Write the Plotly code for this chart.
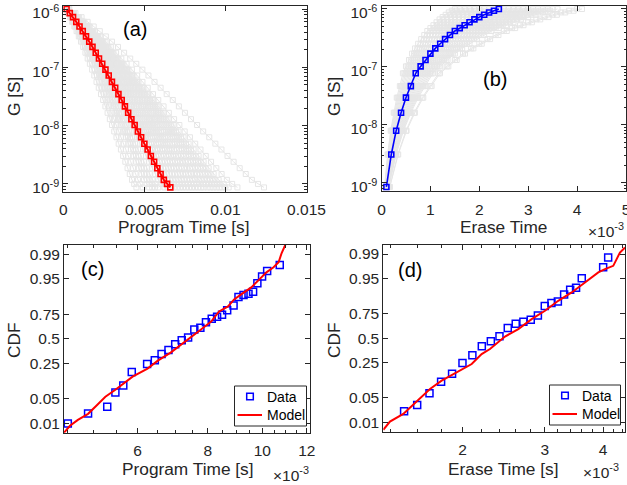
import plotly.graph_objects as go
from statistics import NormalDist

W, H = 627, 485
FONT = "Liberation Sans, Arial, sans-serif"
INK = "#262626"
GREY = "rgb(230,230,230)"

# ---------------- (a) program: conductance after each pulse ----------------
prog_time_ms = [0.2, 0.4, 0.6, 0.8, 1.0, 1.2, 1.4, 1.6, 1.8, 2.0, 2.2,
                2.4, 2.6, 2.8, 3.0, 3.2, 3.4, 3.6, 3.8, 4.0, 4.2, 4.4,
                4.6, 4.8, 5.0, 5.2, 5.4, 5.6, 5.8, 6.0, 6.2, 6.4, 6.6]
prog_log10_g = [-6.00, -6.07, -6.14, -6.22, -6.30, -6.38, -6.47, -6.56, -6.65,
                -6.75, -6.85, -6.94, -7.04, -7.14, -7.25, -7.35, -7.46, -7.56,
                -7.67, -7.78, -7.89, -7.99, -8.10, -8.20, -8.31, -8.41, -8.52,
                -8.62, -8.73, -8.83, -8.93, -9.00, -9.06]

# ---------------- (b) erase: conductance after each pulse ----------------
erase_time_ms = [0.1, 0.2, 0.3, 0.4, 0.5, 0.6, 0.7, 0.8, 0.9, 1.0, 1.1, 1.2,
                 1.3, 1.4, 1.5, 1.6, 1.7, 1.8, 1.9, 2.0, 2.1, 2.2, 2.3, 2.4]
erase_log10_g = [-9.07, -8.51, -8.10, -7.79, -7.53, -7.33, -7.11, -6.99,
                 -6.88, -6.77, -6.68, -6.60, -6.52, -6.45, -6.38, -6.33,
                 -6.28, -6.23, -6.18, -6.14, -6.10, -6.06, -6.03, -6.00]

# ---------------- (c) program time distribution ----------------
prog_data_ms = [4.51, 4.90, 5.30, 5.48, 5.66, 5.86, 6.24, 6.44, 6.62, 6.81,
                7.00, 7.19, 7.38, 7.57, 7.76, 7.94, 8.13, 8.31, 8.48, 8.66,
                8.89, 9.07, 9.26, 9.45, 9.63, 9.80, 9.99, 10.20, 10.74, 12.38]
prog_data_cdf = [0.0100, 0.0202, 0.0311, 0.0706, 0.1006, 0.1817, 0.2455, 0.2777,
                 0.3398, 0.3810, 0.4408, 0.4846, 0.5143, 0.6011, 0.6190, 0.6762,
                 0.7092, 0.7278, 0.7457, 0.7846, 0.8205, 0.8741, 0.8851, 0.8925,
                 0.9023, 0.9362, 0.9562, 0.9687, 0.9787, 0.9891]
prog_model_ms = [4.44, 4.55, 4.70, 4.90, 5.09, 5.26, 5.48, 5.66, 5.88, 6.25,
                 6.52, 6.87, 7.22, 7.47, 7.78, 8.11, 8.38, 8.69, 8.91, 9.17,
                 9.56, 9.88, 10.17, 10.47, 10.69, 10.82, 11.00]
prog_model_cdf = [0.0050, 0.0085, 0.0131, 0.0198, 0.0351, 0.0559, 0.0812, 0.1090,
                  0.1494, 0.2066, 0.2750, 0.3530, 0.4485, 0.5143, 0.6010, 0.6830,
                  0.7740, 0.8130, 0.8605, 0.8890, 0.9212, 0.9488, 0.9660, 0.9752,
                  0.9822, 0.9906, 0.9953]

# ---------------- (d) erase time distribution ----------------
erase_data_ms = [1.5, 1.6, 1.7, 1.8, 1.9, 2.0, 2.1, 2.2, 2.3, 2.4, 2.5, 2.6,
                 2.7, 2.8, 2.9, 3.0, 3.1, 3.2, 3.3, 3.4, 3.5, 3.6, 4.0, 4.1]
erase_data_cdf = [0.0222, 0.0331, 0.0649, 0.1159, 0.1647, 0.2482, 0.3199, 0.4129,
                  0.4671, 0.5220, 0.6117, 0.6562, 0.6763, 0.6958, 0.7368, 0.8132,
                  0.8346, 0.8459, 0.8872, 0.9097, 0.9183, 0.9517, 0.9752, 0.9872]
erase_model_ms = [1.354, 1.399, 1.494, 1.596, 1.704, 1.805, 1.911, 1.992, 2.093,
                  2.198, 2.290, 2.466, 2.633, 2.812, 3.003, 3.206, 3.425, 3.657,
                  3.905, 4.036, 4.136, 4.204, 4.275, 4.345, 4.454]
erase_model_cdf = [0.0058, 0.0108, 0.0185, 0.0413, 0.0812, 0.1214, 0.1627, 0.1989,
                   0.2395, 0.3327, 0.3841, 0.5198, 0.6011, 0.7025, 0.7765, 0.8499,
                   0.8974, 0.9385, 0.9655, 0.9719, 0.9748, 0.9773, 0.9856, 0.9911,
                   0.9939]

cdf_ticks = [0.01, 0.05, 0.25, 0.5, 0.75, 0.95, 0.99]
cdf_tick_text = ["0.01", "0.05", "0.25", "0.5", "0.75", "0.95", "0.99"]
g_ticks = [1e-9, 1e-8, 1e-7, 1e-6]
g_tick_text = ["10<sup>-9</sup>", "10<sup>-8</sup>", "10<sup>-7</sup>", "10<sup>-6</sup>"]
prog_ticks = [0, 0.005, 0.01, 0.015]
prog_tick_text = ["0", "0.005", "0.01", "0.015"]
erase_ticks = [0, 1e-3, 2e-3, 3e-3, 4e-3, 5e-3]
erase_tick_text = ["0", "1", "2", "3", "4", "5"]
c_ticks = [6e-3, 8e-3, 10e-3, 12e-3]
c_tick_text = ["6", "8", "10", "12"]
d_ticks = [2e-3, 3e-3, 4e-3]
d_tick_text = ["2", "3", "4"]

probit = NormalDist().inv_cdf


def family(t_ms, logg, switch_ms):
    """Every other cycle: the highlighted trace rescaled to its own switching time."""
    xs, ys = [], []
    t_ref = t_ms[-1]
    for T in switch_ms:
        s = T / t_ref
        xs += [t * s * 1e-3 for t in t_ms] + [None]
        ys += [10 ** v for v in logg] + [None]
    return xs, ys


def px_x(p):
    return p / W


def px_y(p):
    return 1 - p / H


fig = go.Figure()

# (a)
gx, gy = family(prog_time_ms, prog_log10_g, prog_data_ms)
fig.add_trace(go.Scatter(x=gx, y=gy, xaxis="x", yaxis="y", mode="lines+markers",
                         line=dict(color=GREY, width=1),
                         marker=dict(symbol="square-open", size=5, color=GREY, line=dict(width=1)),
                         showlegend=False, hoverinfo="skip"))
fig.add_trace(go.Scatter(x=[t * 1e-3 for t in prog_time_ms], y=[10 ** v for v in prog_log10_g],
                         xaxis="x", yaxis="y", mode="lines+markers",
                         line=dict(color="red", width=2),
                         marker=dict(symbol="square-open", size=5, color="red", line=dict(width=1.6)),
                         showlegend=False))

# (b)
gx, gy = family(erase_time_ms, erase_log10_g, erase_data_ms)
fig.add_trace(go.Scatter(x=gx, y=gy, xaxis="x2", yaxis="y2", mode="lines+markers",
                         line=dict(color=GREY, width=1),
                         marker=dict(symbol="square-open", size=5, color=GREY, line=dict(width=1)),
                         showlegend=False, hoverinfo="skip"))
fig.add_trace(go.Scatter(x=[t * 1e-3 for t in erase_time_ms], y=[10 ** v for v in erase_log10_g],
                         xaxis="x2", yaxis="y2", mode="lines+markers",
                         line=dict(color="blue", width=1.6),
                         marker=dict(symbol="square-open", size=5, color="blue", line=dict(width=1.6)),
                         showlegend=False))

# (c)
fig.add_trace(go.Scatter(x=[v * 1e-3 for v in prog_data_ms], y=[probit(p) for p in prog_data_cdf],
                         xaxis="x3", yaxis="y3", mode="markers", name="Data",
                         marker=dict(symbol="square-open", size=7, color="blue", line=dict(width=1.5)),
                         cliponaxis=False, showlegend=False))
fig.add_trace(go.Scatter(x=[v * 1e-3 for v in prog_model_ms], y=[probit(p) for p in prog_model_cdf],
                         xaxis="x3", yaxis="y3", mode="lines", name="Model",
                         line=dict(color="red", width=2), showlegend=False))

# (d)
fig.add_trace(go.Scatter(x=[v * 1e-3 for v in erase_data_ms], y=[probit(p) for p in erase_data_cdf],
                         xaxis="x4", yaxis="y4", mode="markers", name="Data",
                         marker=dict(symbol="square-open", size=7, color="blue", line=dict(width=1.5)),
                         cliponaxis=False, showlegend=False))
fig.add_trace(go.Scatter(x=[v * 1e-3 for v in erase_model_ms], y=[probit(p) for p in erase_model_cdf],
                         xaxis="x4", yaxis="y4", mode="lines", name="Model",
                         line=dict(color="red", width=2), showlegend=False))

axis_style = dict(showline=True, linecolor=INK, linewidth=1, mirror="allticks",
                  ticks="inside", ticklen=5, tickcolor=INK, tickwidth=1,
                  showgrid=False, zeroline=False, automargin=False,
                  ticklabeloverflow="allow",
                  tickfont=dict(family=FONT, size=15.5, color=INK))

log_minor = [m * 10 ** e for e in (-10, -9, -8, -7, -6) for m in range(2, 10)]
minor_style = dict(ticks="inside", ticklen=2.5, tickcolor=INK, tickvals=log_minor)
c_minor = [v * 1e-3 for v in (4.5, 5, 5.5, 6.5, 7, 7.5, 8.5, 9, 9.5, 10.5, 11, 11.5)]
d_minor = [v * 1e-3 for v in (1.4, 1.6, 1.8, 2.2, 2.4, 2.6, 2.8, 3.2, 3.4, 3.6, 3.8, 4.2, 4.4)]

zlo, zhi = probit(0.005), probit(0.995)

fig.update_layout(
    width=W, height=H, margin=dict(l=0, r=0, t=0, b=0, autoexpand=False),
    paper_bgcolor="white", plot_bgcolor="white",
    font=dict(family=FONT, color=INK), showlegend=False,
    xaxis=dict(domain=[px_x(63.3), px_x(306.5)], anchor="y", range=[0, 0.015],
               tickvals=prog_ticks, ticktext=prog_tick_text, ticklabelstandoff=4, **axis_style),
    yaxis=dict(domain=[px_y(191.5), px_y(5.5)], anchor="x", type="log", range=[-9.13, -5.94],
               tickvals=g_ticks, ticktext=g_tick_text, minor=minor_style,
               ticklabelshift=4, **axis_style),
    xaxis2=dict(domain=[px_x(381.5), px_x(626)], anchor="y2", range=[0, 5e-3],
                tickvals=erase_ticks, ticktext=erase_tick_text, ticklabelstandoff=4, **axis_style),
    yaxis2=dict(domain=[px_y(191), px_y(5.5)], anchor="x2", type="log", range=[-9.14, -5.94],
                tickvals=g_ticks, ticktext=g_tick_text, minor=minor_style,
                ticklabelshift=4, **axis_style),
    xaxis3=dict(domain=[px_x(64), px_x(309.5)], anchor="y3", type="log",
                range=[-2.3526, -1.9161], tickvals=c_ticks, ticktext=c_tick_text,
                minor=dict(ticks="inside", ticklen=2.5, tickcolor=INK, tickvals=c_minor),
                ticklabelstandoff=4, **axis_style),
    yaxis3=dict(domain=[px_y(432.7), px_y(245)], anchor="x3", range=[zlo, zhi],
                tickvals=[probit(p) for p in cdf_ticks], ticktext=cdf_tick_text, **axis_style),
    xaxis4=dict(domain=[px_x(383.3), px_x(625)], anchor="y4", type="log",
                range=[-2.8684, -2.3512], tickvals=d_ticks, ticktext=d_tick_text,
                minor=dict(ticks="inside", ticklen=2.5, tickcolor=INK, tickvals=d_minor),
                ticklabelstandoff=4, **axis_style),
    yaxis4=dict(domain=[px_y(431.7), px_y(245)], anchor="x4", range=[zlo, zhi],
                tickvals=[probit(p) for p in cdf_ticks], ticktext=cdf_tick_text, **axis_style),
)

texts = [
    # (text, x px, y px, size, angle)
    ("(a)", 135, 29, 20, 0),
    ("(b)", 495, 79, 20, 0),
    ("(c)", 92, 269, 20, 0),
    ("(d)", 410, 270, 20, 0),
    ("Program Time [s]", 184, 227, 17.3, 0),
    ("Erase Time", 503, 227, 17.3, 0),
    ("Program Time [s]", 188, 469, 17.3, 0),
    ("Erase Time [s]", 503, 469, 17.3, 0),
    ("G [S]", 14, 97, 17.3, -90),
    ("G [S]", 334, 97, 17.3, -90),
    ("CDF", 14, 340, 17.3, -90),
    ("CDF", 334, 340, 17.3, -90),
]
for t, x, y, s, a in texts:
    fig.add_annotation(text=t, x=px_x(x), y=px_y(y), xref="paper", yref="paper",
                       showarrow=False, textangle=a, xanchor="center", yanchor="middle",
                       font=dict(family=FONT, size=s, color="black" if t.startswith("(") else INK))

for x, y in [(606, 230), (291, 474), (601, 471)]:
    fig.add_annotation(text="\u00d710<sup>-3</sup>", x=px_x(x), y=px_y(y), xref="paper", yref="paper",
                       showarrow=False, xanchor="center", yanchor="middle",
                       font=dict(family=FONT, size=15.5, color=INK))


def legend_box(x0, y0, x1, y1):
    """Boxed Data/Model key drawn in pixel coordinates of the page."""
    fig.add_shape(type="rect", xref="paper", yref="paper",
                  x0=px_x(x0), x1=px_x(x1), y0=px_y(y1), y1=px_y(y0),
                  line=dict(color=INK, width=1), fillcolor="white", layer="above")
    row1, row2 = y0 + 10.5, y0 + 29
    mx = x0 + 15.5
    fig.add_shape(type="rect", xref="paper", yref="paper",
                  x0=px_x(mx - 3.3), x1=px_x(mx + 3.3), y0=px_y(row1 + 3.3), y1=px_y(row1 - 3.3),
                  line=dict(color="blue", width=1.5), layer="above")
    fig.add_shape(type="line", xref="paper", yref="paper",
                  x0=px_x(x0 + 3), x1=px_x(x0 + 27.5), y0=px_y(row2), y1=px_y(row2),
                  line=dict(color="red", width=2), layer="above")
    for label, ry in (("Data", row1), ("Model", row2)):
        fig.add_annotation(text=label, x=px_x(x0 + 30), y=px_y(ry), xref="paper", yref="paper",
                           showarrow=False, xanchor="left", yanchor="middle",
                           font=dict(family=FONT, size=14, color="black"))


legend_box(234.5, 386, 306.5, 426)
legend_box(549.5, 385, 620.5, 425)

fig.write_html("out.html")
